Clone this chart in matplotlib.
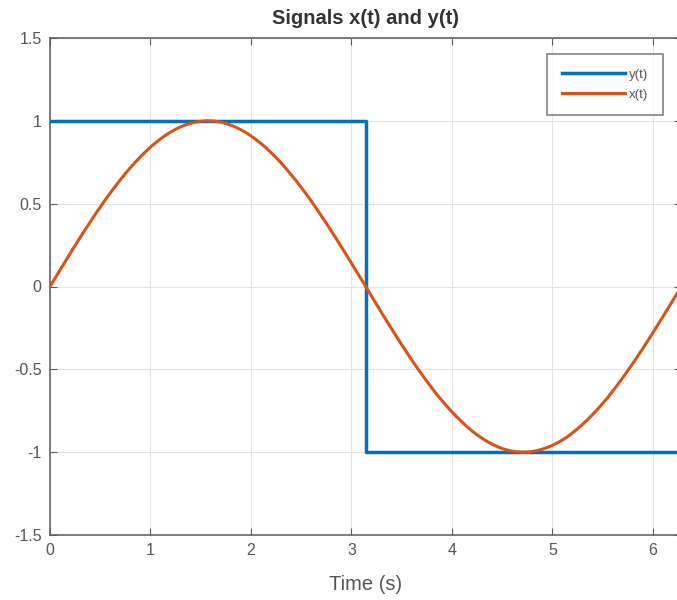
import numpy as np
import matplotlib.pyplot as plt

t_x = [0.00, 0.05, 0.10, 0.15, 0.20, 0.25, 0.30, 0.35, 0.40, 0.45,
       0.50, 0.55, 0.60, 0.65, 0.70, 0.75, 0.80, 0.85, 0.90, 0.95,
       1.00, 1.05, 1.10, 1.15, 1.20, 1.25, 1.30, 1.35, 1.40, 1.45,
       1.50, 1.55, 1.60, 1.65, 1.70, 1.75, 1.80, 1.85, 1.90, 1.95,
       2.00, 2.05, 2.10, 2.15, 2.20, 2.25, 2.30, 2.35, 2.40, 2.45,
       2.50, 2.55, 2.60, 2.65, 2.70, 2.75, 2.80, 2.85, 2.90, 2.95,
       3.00, 3.05, 3.10, 3.15, 3.20, 3.25, 3.30, 3.35, 3.40, 3.45,
       3.50, 3.55, 3.60, 3.65, 3.70, 3.75, 3.80, 3.85, 3.90, 3.95,
       4.00, 4.05, 4.10, 4.15, 4.20, 4.25, 4.30, 4.35, 4.40, 4.45,
       4.50, 4.55, 4.60, 4.65, 4.70, 4.75, 4.80, 4.85, 4.90, 4.95,
       5.00, 5.05, 5.10, 5.15, 5.20, 5.25, 5.30, 5.35, 5.40, 5.45,
       5.50, 5.55, 5.60, 5.65, 5.70, 5.75, 5.80, 5.85, 5.90, 5.95,
       6.00, 6.05, 6.10, 6.15, 6.20, 6.25, 6.28]
x_vals = [0.000, 0.050, 0.100, 0.149, 0.199, 0.247, 0.296, 0.343, 0.389, 0.435,
          0.479, 0.523, 0.565, 0.605, 0.644, 0.682, 0.717, 0.751, 0.783, 0.813,
          0.841, 0.867, 0.891, 0.913, 0.932, 0.949, 0.964, 0.976, 0.985, 0.993,
          0.997, 1.000, 1.000, 0.997, 0.992, 0.984, 0.974, 0.961, 0.946, 0.929,
          0.909, 0.887, 0.863, 0.837, 0.808, 0.778, 0.746, 0.711, 0.675, 0.638,
          0.598, 0.558, 0.516, 0.472, 0.427, 0.382, 0.335, 0.287, 0.239, 0.190,
          0.141, 0.091, 0.042, -0.008, -0.058, -0.108, -0.158, -0.207, -0.256, -0.304,
          -0.351, -0.397, -0.443, -0.487, -0.530, -0.572, -0.612, -0.651, -0.688, -0.723,
          -0.757, -0.788, -0.818, -0.846, -0.872, -0.895, -0.916, -0.935, -0.952, -0.966,
          -0.978, -0.987, -0.994, -0.998, -1.000, -0.999, -0.996, -0.990, -0.982, -0.971,
          -0.959, -0.944, -0.926, -0.907, -0.883, -0.859, -0.832, -0.804, -0.773, -0.741,
          -0.706, -0.671, -0.631, -0.592, -0.551, -0.508, -0.465, -0.420, -0.374, -0.327,
          -0.279, -0.231, -0.182, -0.133, -0.083, -0.033, 0.000]

# y(t): square wave, switches at t = pi
t_y = [0.0, 3.14, 3.14, 6.28]
y_vals = [1, 1, -1, -1]

x_ticks = [0, 1, 2, 3, 4, 5, 6]
y_ticks = [-1.5, -1, -0.5, 0, 0.5, 1, 1.5]
y_ticklabels = ['-1.5', '-1', '-0.5', '0', '0.5', '1', '1.5']

plt.rcParams['font.family'] = ['Liberation Sans', 'DejaVu Sans']
txt = '#555555'

fig = plt.figure(figsize=(6.77, 6.0), dpi=100)
ax = fig.add_axes([50 / 677, 1 - 535 / 600, 631 / 677, 497 / 600])

ax.plot(t_y, y_vals, color='#0072BD', lw=2.5, label='y(t)', zorder=3)
ax.plot(t_x, x_vals, color='#D95319', lw=2.2, label='x(t)', zorder=4)

ax.set_xlim(0, 6.28)
ax.set_ylim(-1.5, 1.5)
ax.set_xticks(x_ticks)
ax.set_yticks(y_ticks)
ax.set_yticklabels(y_ticklabels)
ax.grid(True, color='#e3e3e3', lw=0.8)
ax.set_axisbelow(True)
ax.tick_params(direction='in', top=True, right=True, length=5, width=0.8,
               colors='#5a5a5a', labelcolor=txt, labelsize=11.5, pad=6)
for s in ax.spines.values():
    s.set_color('#5a5a5a')
    s.set_linewidth(1.1)

ax.set_title('Signals x(t) and y(t)', fontsize=14.5, fontweight='bold',
             color='#333333', pad=10)
ax.set_xlabel('Time (s)', fontsize=14.5, color=txt, labelpad=12)

leg = ax.legend(loc='upper right', bbox_to_anchor=(663 / 677, 1 - 54 / 600),
                bbox_transform=fig.transFigure, fontsize=9.5, frameon=True,
                fancybox=False, edgecolor='#5a5a5a', handlelength=4.8,
                handletextpad=0.3, borderpad=1.1, labelspacing=0.6,
                borderaxespad=0)
leg.get_frame().set_linewidth(1.1)
for text in leg.get_texts():
    text.set_color(txt)

fig.savefig('out.png', dpi=100)
